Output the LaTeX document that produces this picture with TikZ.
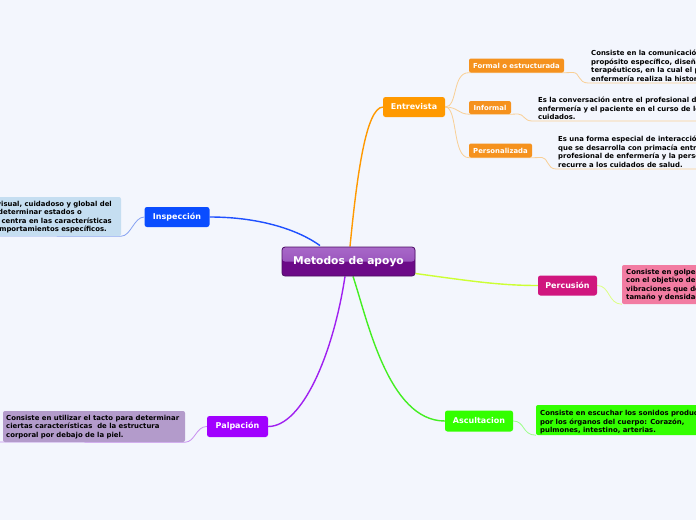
\documentclass[tikz,border=0pt]{standalone}
\usepackage{fontspec}
\setmainfont{DejaVu Sans}
\usetikzlibrary{backgrounds}
\definecolor{bgc}{HTML}{F3F6FD}
\definecolor{rootdark}{HTML}{6C0A88}
\definecolor{roottop}{HTML}{A868C8}
\definecolor{rootmid}{HTML}{8E44B4}
\definecolor{rootborder}{HTML}{4B0E63}
\definecolor{cEntre}{HTML}{FF9900}
\definecolor{cSub}{HTML}{F5921E}
\definecolor{cSubLine}{HTML}{F9CF95}
\definecolor{cInsp}{HTML}{0A4DFF}
\definecolor{cInspLine}{HTML}{1F50FF}
\definecolor{cInspLeaf}{HTML}{C5DEF1}
\definecolor{cInspTwig}{HTML}{86A2F2}
\definecolor{cPerc}{HTML}{D0167E}
\definecolor{cPercLine}{HTML}{CCFF33}
\definecolor{cPercLeaf}{HTML}{F27CA2}
\definecolor{cPercTwig}{HTML}{DDFF85}
\definecolor{cAsc}{HTML}{33FF00}
\definecolor{cAscLine}{HTML}{44EE22}
\definecolor{cAscTwig}{HTML}{9BFF88}
\definecolor{cPalp}{HTML}{A100FF}
\definecolor{cPalpLine}{HTML}{A020F0}
\definecolor{cPalpLeaf}{HTML}{B39BCB}
\definecolor{cPalpTwig}{HTML}{C890F0}
\begin{document}
\begin{tikzpicture}[x=1pt,y=-1pt,
  rootbox/.style={draw=rootborder, line width=0.8pt, rounded corners=3pt, fill=rootdark, inner sep=0,
    text=white, font=\fontsize{10.7}{12}\selectfont\bfseries,
    path picture={\shade[top color=roottop, bottom color=rootmid] (path picture bounding box.north west) rectangle (path picture bounding box.east);}},
  mainnode/.style={rounded corners=2.5pt, inner sep=0, text=white, font=\fontsize{8}{9}\selectfont\bfseries, minimum height=20pt},
  subnode/.style={rounded corners=2pt, fill=cSub, inner sep=0, text=white, font=\fontsize{6.9}{8}\selectfont\bfseries, minimum height=14pt},
  leafbox/.style={rounded corners=2pt, inner sep=0},
  lt/.style={inner sep=0, anchor=base west, font=\fontsize{6.9}{8}\selectfont\bfseries, text=black},
  lte/.style={lt, anchor=base east},
  branch/.style={line width=1.4pt},
  twig/.style={line width=0.8pt}]
\useasboundingbox (0,0) rectangle (696,520);
\begin{pgfonlayer}{background}
\fill[bgc] (0,0) rectangle (696,520);
\end{pgfonlayer}
\clip (0,0) rectangle (696,520);

% central
\node[rootbox, minimum width=133pt, minimum height=29pt] (root) at (348.5,261.5) {Metodos de apoyo};

% main branches
\node[mainnode, fill=cEntre, minimum width=62pt] (entrevista) at (414,107) {Entrevista};
\node[mainnode, fill=cInsp, minimum width=65pt] (inspeccion) at (177,217) {Inspección};
\node[mainnode, fill=cPerc, minimum width=59pt] (percusion) at (567.5,285.5) {Percusión};
\node[mainnode, fill=cAsc, minimum width=68pt, minimum height=21pt] (ascult) at (479,421) {Ascultacion};
\node[mainnode, fill=cPalp, minimum width=61pt, minimum height=21pt] (palpacion) at (237.5,426.5) {Palpación};

% sub nodes
\node[subnode, minimum width=95pt] (formal) at (516.5,65.5) {Formal o estructurada};
\node[subnode, minimum width=42pt, minimum height=13pt] (informal) at (490,107.5) {Informal};
\node[subnode, minimum width=63pt] (personal) at (500.5,150.5) {Personalizada};

% leaf boxes
\node[leafbox, fill=cInspLeaf, minimum width=126pt, minimum height=39pt] (inspleaf) at (58,216.5) {};
\node[leafbox, fill=cPercLeaf, minimum width=78pt, minimum height=39pt] (percleaf) at (661,284.5) {};
\node[leafbox, fill=cAsc, minimum width=164pt, minimum height=30pt] (ascleaf) at (618,420) {};
\node[leafbox, fill=cPalpLeaf, minimum width=182pt, minimum height=31pt] (palpleaf) at (94,426.5) {};

% leaf texts
\node[lt] (fo1) at (591,55.5) {Consiste en la comunicación con un};
\node[lt] (fo2) at (591,64) {propósito específico, diseñada con fines};
\node[lt] (fo3) at (591,72.5) {terapéuticos, en la cual el profesional de};
\node[lt] (fo4) at (591,81) {enfermería realiza la historia clínica.};

\node[lt] (in1) at (538,102.5) {Es la conversación entre el profesional de};
\node[lt] (in2) at (538,111) {enfermería y el paciente en el curso de los};
\node[lt] (in3) at (538,119.5) {cuidados.};

\node[lt] (pe1) at (558,141.5) {Es una forma especial de interacción};
\node[lt] (pe2) at (558,150) {que se desarrolla con primacía entre el};
\node[lt] (pe3) at (558,158.5) {profesional de enfermería y la persona que};
\node[lt] (pe4) at (558,167) {recurre a los cuidados de salud.};

\node[lte] (is1) at (112,206) {Es el examen visual, cuidadoso y global del};
\node[lte] (is2) at (82,214.5) {paciente para determinar estados o};
\node[lte] (is3) at (112,223) {anormales. Se centra en las características};
\node[lte] (is4) at (107,231.5) {físicas o los comportamientos específicos.};

\node[lt] (pc1) at (626,274) {Consiste en golpear la superficie};
\node[lt] (pc2) at (626,282.5) {con el objetivo de producir};
\node[lt] (pc3) at (626,291) {vibraciones que determinen el};
\node[lt] (pc4) at (626,299.5) {tamaño y densidad de los órganos.};

\node[lt] (as1) at (540,415.5) {Consiste en escuchar los sonidos producidos};
\node[lt] (as2) at (540,424) {por los órganos del cuerpo: Corazón,};
\node[lt] (as3) at (540,432.5) {pulmones, intestino, arterias.};

\node[lt] (pa1) at (6,420) {Consiste en utilizar el tacto para determinar};
\node[lt] (pa2) at (6,428.5) {ciertas características\ \ de la estructura};
\node[lt] (pa3) at (6,437) {corporal por debajo de la piel.};

% connectors
\coordinate (fend) at (696,83);
\coordinate (iend) at (696,121);
\coordinate (pend) at (696,169);
\coordinate (isend) at (0,236);
\coordinate (paend) at (0,442);

\begin{pgfonlayer}{background}
\draw[branch, cEntre] ([xshift=1.5pt]root.north) .. controls (357,175) and (366,108) .. (entrevista.west);
\draw[branch, cInspLine] ([xshift=-28.5pt,yshift=1pt]root.north) .. controls (300,231) and (262,217) .. (inspeccion.east);
\draw[branch, cPercLine] ([yshift=-12pt]root.east) .. controls (470,281) and (500,285.5) .. (percusion.west);
\draw[branch, cAscLine] ([xshift=4.5pt]root.south) .. controls (367,318) and (388,421) .. (ascult.west);
\draw[branch, cPalpLine] ([xshift=-3.5pt]root.south) .. controls (333,355) and (302,426.5) .. (palpacion.east);

\draw[twig, cSubLine] (entrevista.east) .. controls (458,107) and (452,72.5) .. (formal.south west) -- (formal.south east) -- (573,72.5) .. controls (580,72.5) and (578,83) .. (588,83) -- (fend);
\draw[twig, cSubLine] (entrevista.east) .. controls (458,107) and (458,114) .. (informal.south west) -- (informal.south east) -- (518,114) .. controls (524,114) and (524,121) .. (532,121) -- (iend);
\draw[twig, cSubLine] (entrevista.east) .. controls (458,107) and (452,157.5) .. (personal.south west) -- (personal.south east) -- (542,157.5) .. controls (548,157.5) and (547,169) .. (556,169) -- (pend);

\draw[twig, cInspTwig] (inspeccion.west) .. controls (134,217) and (131,236) .. (inspleaf.south east) -- (isend);
\draw[twig, cPercTwig] (percusion.east) .. controls (610,285.5) and (608,304) .. (percleaf.south west);
\draw[twig, cAscTwig] (ascult.east) .. controls (525,421) and (522,435) .. (ascleaf.south west);
\draw[twig, cPalpTwig] (palpacion.west) .. controls (196,426.5) and (195,442) .. (palpleaf.south east) -- (paend);
\end{pgfonlayer}
\end{tikzpicture}
\end{document}
